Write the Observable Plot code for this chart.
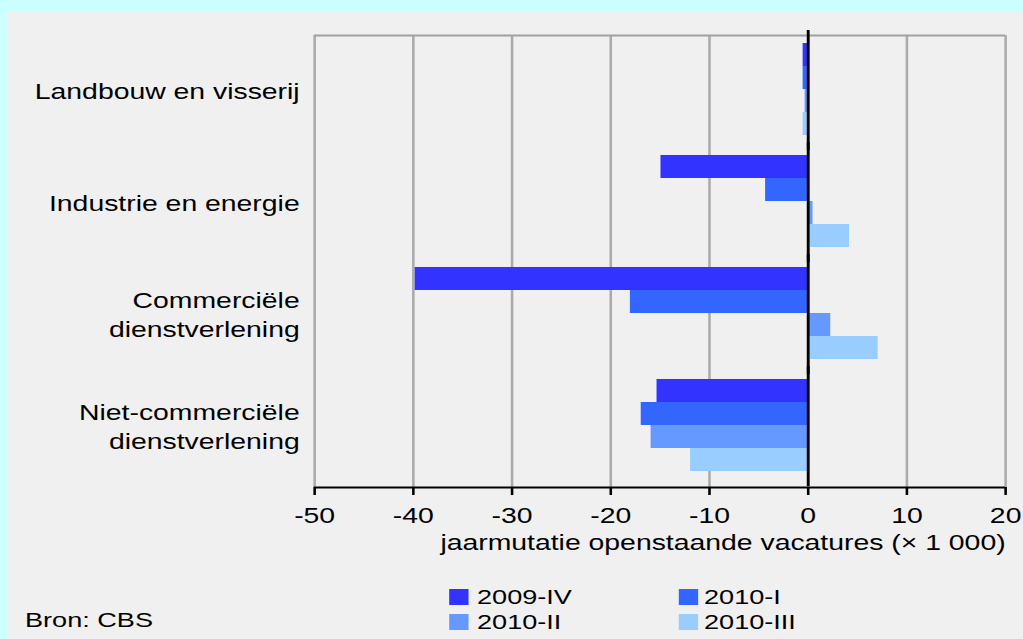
<!DOCTYPE html>
<html>
<head>
<meta charset="utf-8">
<script src="https://cdn.jsdelivr.net/npm/d3@7"></script>
<script src="https://cdn.jsdelivr.net/npm/@observablehq/plot@0.6"></script>
<style>
  html, body { margin: 0; padding: 0; }
  body { background: #ccffff; width: 1023px; height: 639px; overflow: hidden; font-family: "Liberation Sans", Arial, sans-serif; }
  #panel { position: absolute; left: 8px; top: 12px; width: 1015px; height: 627px; background: #f0f0f0; overflow: hidden; }
  #stage { position: absolute; left: 0; top: 0; height: 627px; transform-origin: 0 0; }
  #stage > svg { position: absolute; left: 0; top: 0; }
  .leg { position: absolute; font-size: 21px; color: #000; line-height: 22px; white-space: nowrap; }
  .sw { position: absolute; height: 16px; }
</style>
</head>
<body>
<div id="panel"><div id="stage"></div></div>
<script>
// ---- data ----
const categories = ["Landbouw en visserij", "Industrie en energie", "Commerciële dienstverlening", "Niet-commerciële dienstverlening"];
const categoryLabels = ["Landbouw en visserij", "Industrie en energie", "Commerciële\ndienstverlening", "Niet-commerciële\ndienstverlening"];
const series = ["2009-IV", "2010-I", "2010-II", "2010-III"];
const colors = ["#3333ff", "#3366ff", "#6699ff", "#99ccff"];
const v2009IV  = [-0.5, -14.9, -39.8, -15.3];
const v2010I   = [-0.5, -4.3, -18.0, -16.9];
const v2010II  = [-0.3, 0.5, 2.3, -15.9];
const v2010III = [-0.5, 4.2, 7.1, -11.9];
const xTicks = [-50, -40, -30, -20, -10, 0, 10, 20];
const xLabel = "jaarmutatie openstaande vacatures (× 1 000)";
const source = "Bron: CBS";

const seriesValues = [v2009IV, v2010I, v2010II, v2010III];
const rows = [];
categories.forEach((c, i) => series.forEach((s, j) => rows.push({cat: c, series: s, value: seriesValues[j][i]})));

// the original picture is stretched horizontally; reproduce with a horizontal scale of the stage
const S = 1.29;
const W = 1015 / S, H = 627;
const frameLeft = (314 - 8) / S, frameRight = (1005 - 8) / S;
const M = {marginLeft: frameLeft, marginRight: W - frameRight, marginTop: 23, marginBottom: 152};
const font = "'Liberation Sans', Arial, sans-serif";
const stage = document.getElementById("stage");
stage.style.width = W + "px";
stage.style.transform = `scaleX(${S})`;

// background: grid, frame lines, x axis
const bg = Plot.plot({
  width: W, height: H, ...M,
  style: {background: "transparent", fontFamily: font, fontSize: "22px", color: "#000", overflow: "visible"},
  x: {domain: [-50, 20]},
  y: {domain: [0, 1], axis: null},
  marks: [
    Plot.ruleX(xTicks, {stroke: "#ababab", strokeWidth: 2}),
    Plot.ruleY([1], {stroke: "#a0a0a0", strokeWidth: 2}),
    Plot.ruleY([0], {stroke: "#000", strokeWidth: 2}),
    Plot.axisX({ticks: xTicks, tickSize: 8, tickPadding: 12, tickFormat: d => `${d}`, fontSize: 22, stroke: "#000", strokeWidth: 2, label: null}),
    Plot.text([xLabel], {frameAnchor: "bottom-right", dy: 63, textAnchor: "end", fontSize: 22, fill: "#000"})
  ]
});
stage.appendChild(bg);

// foreground: bars faceted by category
const fg = Plot.plot({
  width: W, height: H, ...M,
  style: {background: "transparent", fontFamily: font, fontSize: "22px", color: "#000", overflow: "visible"},
  x: {domain: [-50, 20], axis: null},
  fy: {domain: categories, paddingInner: 0.163, paddingOuter: 0.0935, align: 0.333, axis: null, label: null},
  y: {domain: series, padding: 0, axis: null, label: null},
  color: {domain: series, range: colors},
  marks: [
    Plot.barX(rows, {fy: "cat", y: "series", x: "value", fill: "series"}),
    Plot.ruleX([0], {stroke: "#000", strokeWidth: 2.2, insetTop: -12, insetBottom: -14}),
    Plot.text(categories.map((c, i) => ({cat: c, label: categoryLabels[i]})), {fy: "cat", text: "label", frameAnchor: "left", textAnchor: "end", dx: -11.6, lineHeight: 1.32, fontSize: 22, fill: "#000"})
  ]
});
stage.appendChild(fg);

// legend (stage coordinates: x in unscaled units, y in panel pixels)
const X = xa => (xa - 8) / S;
const legPos = [[449, 589, 477], [679, 589, 704], [449, 614, 477], [679, 614, 704]];
series.forEach((s, i) => {
  const [sx, sy, tx] = legPos[i];
  const sw = document.createElement("div");
  sw.className = "sw";
  sw.style.left = X(sx) + "px";
  sw.style.width = (19 / S) + "px";
  sw.style.top = (sy - 12) + "px";
  sw.style.background = colors[i];
  stage.appendChild(sw);
  const t = document.createElement("div");
  t.className = "leg";
  t.style.left = X(tx) + "px";
  t.style.top = (sy - 12 - 3) + "px";
  t.textContent = s;
  stage.appendChild(t);
});
const src = document.createElement("div");
src.className = "leg";
src.style.left = X(25) + "px";
src.style.top = (620 - 12 - 11) + "px";
src.textContent = source;
stage.appendChild(src);
</script>
</body>
</html>
